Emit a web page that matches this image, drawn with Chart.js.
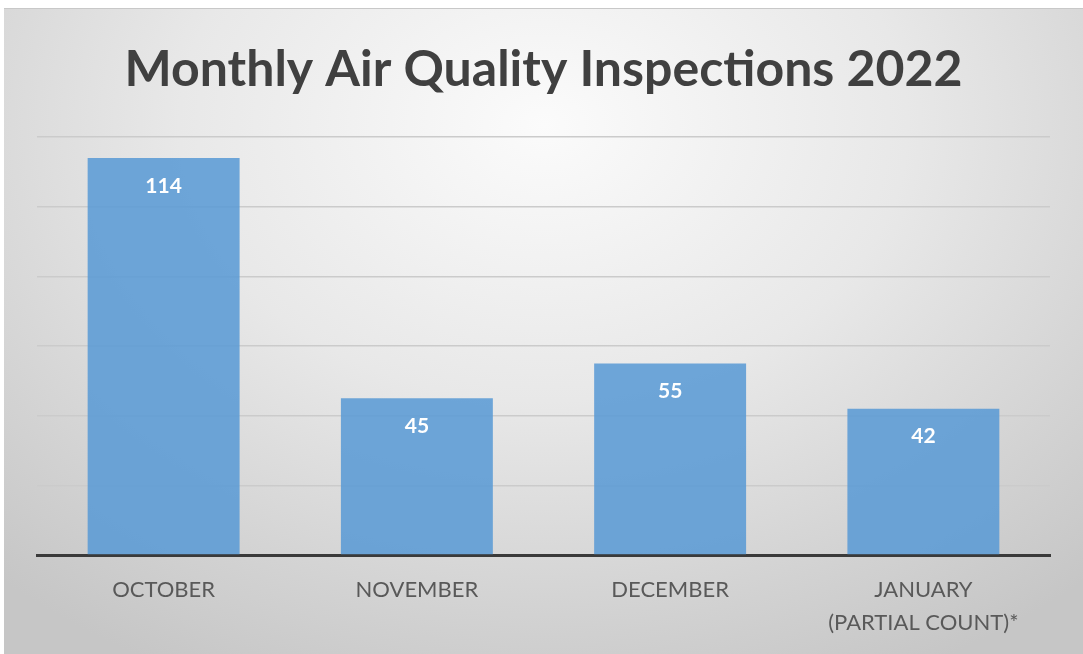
<!DOCTYPE html>
<html>
<head>
<meta charset="utf-8">
<script src="https://cdn.jsdelivr.net/npm/chart.js"></script>
<style>
  html, body { margin: 0; padding: 0; background: #fff; }
  #wrap {
    position: absolute; left: 4px; top: 8px; width: 1079px; height: 646px;
    background: radial-gradient(ellipse 75% 95% at 50% 18%, #fbfbfb 0%, #e8e8e8 45%, #d2d2d2 80%, #c6c6c6 100%);
    border-top: 1px solid #c8c8c8;
    box-sizing: border-box;
  }
</style>
</head>
<body>
<div id="wrap"><canvas id="chart"></canvas></div>
<script>
// chart data
const months = ['OCTOBER', 'NOVEMBER', 'DECEMBER', ['JANUARY', '(PARTIAL COUNT)*']];
const inspections = [114, 45, 55, 42];
const yTicks = [0, 20, 40, 60, 80, 100, 120];

// white value labels inside the top of each bar
const valueLabels = {
  id: 'valueLabels',
  afterDatasetsDraw(chart) {
    const ctx = chart.ctx;
    const meta = chart.getDatasetMeta(0);
    ctx.save();
    ctx.fillStyle = '#ffffff';
    ctx.font = 'bold 21px Lato';
    ctx.textAlign = 'center';
    ctx.textBaseline = 'middle';
    meta.data.forEach((bar, i) => {
      ctx.fillText(String(inspections[i]), bar.x, bar.y + 28);
    });
    ctx.restore();
  }
};

new Chart(document.getElementById('chart'), {
  type: 'bar',
  data: {
    labels: months,
    datasets: [{
      data: inspections,
      backgroundColor: 'rgba(91, 155, 213, 0.88)',
      borderWidth: 0,
      barPercentage: 0.6,
      categoryPercentage: 1
    }]
  },
  options: {
    responsive: true,
    maintainAspectRatio: false,
    animation: false,
    layout: { padding: { left: 33, right: 33, top: 0, bottom: 0 } },
    plugins: {
      legend: { display: false },
      tooltip: { enabled: false },
      title: {
        display: true,
        text: 'Monthly Air Quality Inspections 2022',
        color: '#404040',
        font: { family: 'Lato', size: 50, weight: 'bold' },
        padding: { top: 31, bottom: 37 }
      }
    },
    scales: {
      x: {
        grid: { display: false },
        border: { display: true, color: '#3a3a3a', width: 3 },
        ticks: {
          color: '#595959',
          font: { family: 'Lato', size: 22, lineHeight: 1.5 },
          padding: 10,
          maxRotation: 0
        },
        afterFit(scale) { scale.height = 99; }
      },
      y: {
        min: 0,
        max: 120,
        afterBuildTicks(scale) { scale.ticks = yTicks.map(v => ({ value: v })); },
        ticks: { display: false },
        border: { display: false },
        grid: { color: '#cbcbcb', lineWidth: 1.5, drawTicks: false },
        afterFit(scale) { scale.width = 0; }
      }
    }
  },
  plugins: [valueLabels]
});
</script>
</body>
</html>
